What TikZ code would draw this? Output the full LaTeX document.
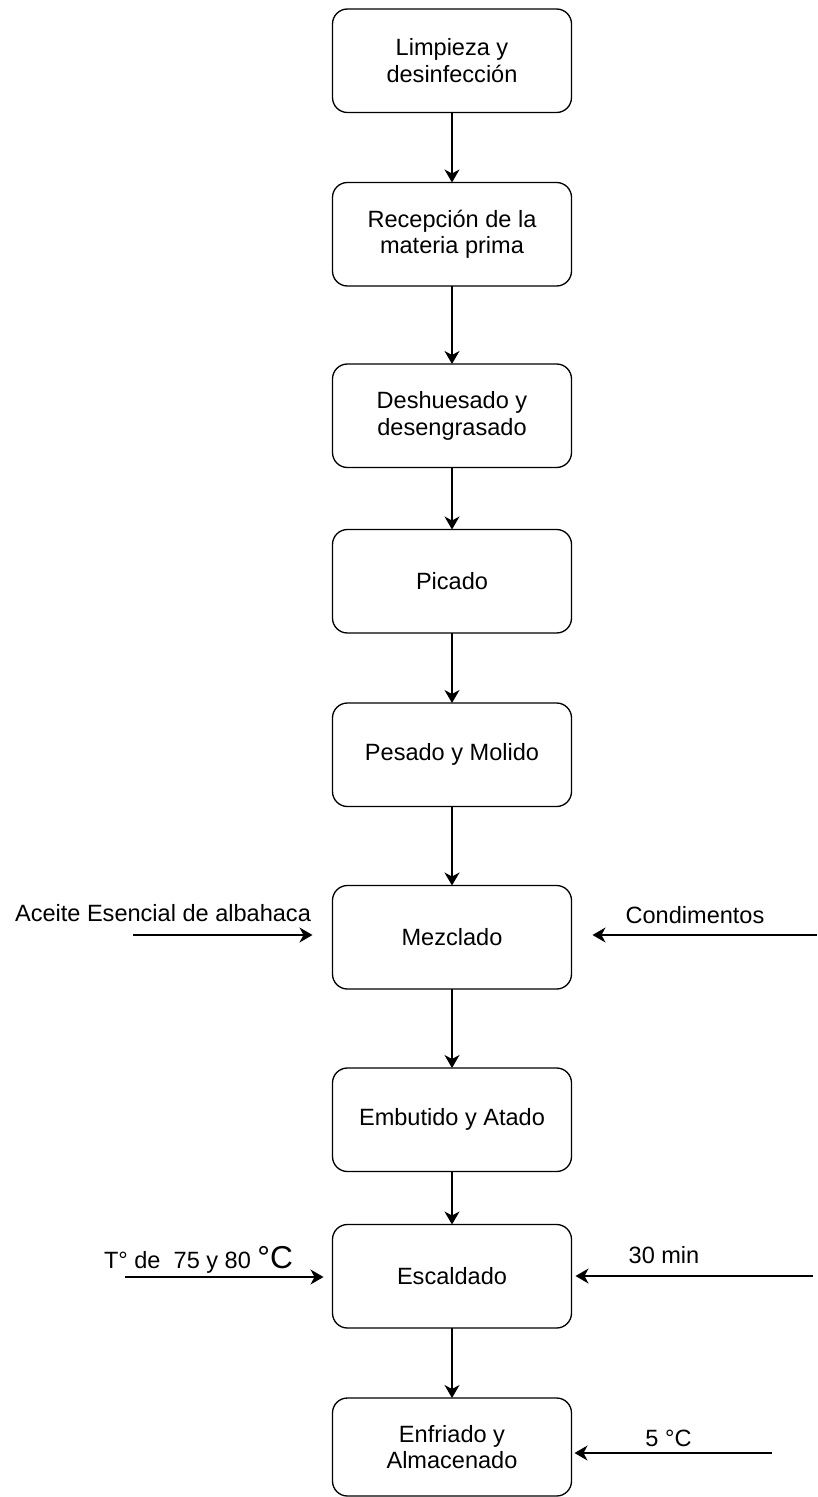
\documentclass[tikz,border=0pt]{standalone}
\usepackage{fontspec}
\setmainfont{Liberation Sans}
\usetikzlibrary{arrows.meta, positioning, calc}
\tikzset{
	process/.style={rectangle, rounded corners=8.5pt, minimum width=4.78cm, minimum height=2.07cm, text centered, align=center, draw=black, line width=0.75pt, outer sep=0pt, font=\fontsize{13.4}{15}\selectfont},
	flowarrow/.style={-{Stealth[length=2.6mm, width=3mm, inset=0.8mm]}, line width=0.75pt},
	% text beside the side inputs
	sidelabel/.style={font=\fontsize{13.4}{15}\selectfont, inner sep=0pt},
}

\begin{document}
\begin{tikzpicture}
	\useasboundingbox (0,0) rectangle (16.34,-29.94);
	\node[process] (limp) at (9.04,-1.215) {Limpieza y\\ desinfección};
	\node[process, below=1.40cm of limp] (recep) {Recepción de la\\ materia prima};
	\node[process, below=1.56cm of recep] (deshu) {Deshuesado y\\ desengrasado};
	\node[process, below=1.24cm of deshu] (pic) {Picado};
	\node[process, below=1.40cm of pic] (pes) {Pesado y Molido};
	\node[process, below=1.58cm of pes] (mez) {Mezclado};
	\node[process, below=1.58cm of mez] (emb) {Embutido y Atado};
	\node[process, below=1.06cm of emb] (escal) {Escaldado};
	\node[process, minimum height=1.96cm, below=1.40cm of escal] (enfr) {Enfriado y\\ Almacenado};

	\foreach \a/\b in {limp/recep, recep/deshu, deshu/pic, pic/pes, pes/mez, mez/emb, emb/escal, escal/enfr}
		\draw[flowarrow] (\a) -- (\b);

	% entradas laterales
	\coordinate (aceiteIn) at (2.66,-18.70);
	\coordinate (condIn) at (16.34,-18.70);
	\coordinate (tempIn) at (2.50,-25.54);
	\coordinate (timeIn) at (16.26,-25.52);
	\coordinate (coolIn) at (15.44,-29.06);

	\draw[flowarrow, shorten >=0.4cm] (aceiteIn) -- (mez.west |- aceiteIn);
	\draw[flowarrow, shorten >=0.42cm] (condIn) -- (mez.east |- condIn);
	\draw[flowarrow, shorten >=0.18cm] (tempIn) -- (escal.west |- tempIn);
	\draw[flowarrow, shorten >=0.08cm] (timeIn) -- (escal.east |- timeIn);
	\draw[flowarrow, shorten >=0.06cm] (coolIn) -- (enfr.east |- coolIn);

	\node[sidelabel] (aceite) at (3.26,-18.26) {Aceite Esencial de albahaca};
	\node[sidelabel] (cond) at (13.90,-18.30) {Condimentos};
	\node[sidelabel] (temp) at (3.97,-25.20) {T° de\ \ 75 y 80 {\fontsize{18}{18}\selectfont °C}};
	\node[sidelabel] (time) at (13.28,-25.10) {30 min};
	\node[sidelabel] (cool) at (13.37,-28.76) {5 °C};
\end{tikzpicture}
\end{document}
